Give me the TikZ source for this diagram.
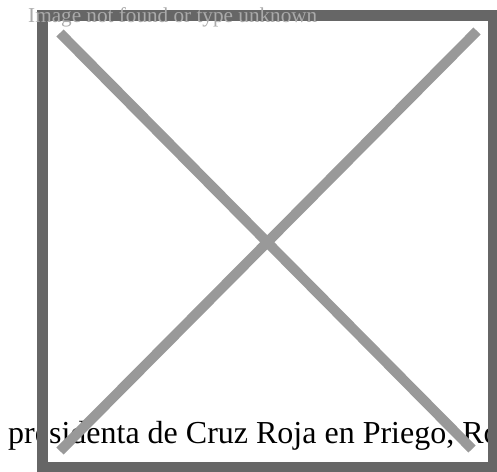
\documentclass[tikz,border=0pt]{standalone}
\usepackage{fontspec}
\setmainfont{Liberation Serif}
\definecolor{framegray}{RGB}{102,102,102}
\definecolor{crossgray}{RGB}{153,153,153}
\definecolor{alttext}{RGB}{170,170,170}
\tikzset{
  crossline/.style={draw=crossgray, line width=10pt, line cap=butt},
  frameline/.style={draw=framegray, line width=11pt},
  captext/.style={anchor=base west, inner sep=0pt, text=black, font=\fontsize{32}{38}\selectfont},
  alttextstyle/.style={anchor=base west, inner sep=0pt, text=alttext, font=\fontsize{21.2}{25}\selectfont}
}
\begin{document}
\begin{tikzpicture}[x=1pt,y=-1pt]
\useasboundingbox (0,0) rectangle (497,471);
\clip (0,0) rectangle (497,471);
\fill[white] (0,0) rectangle (497,471);
% caption text (under frame and cross)
\node[captext] (caption) at (8,443) {presidenta de Cruz Roja en Priego, Ro};
% cross
\coordinate (tl) at (60,33);
\coordinate (br) at (472,449);
\coordinate (tr) at (477,31);
\coordinate (bl) at (60,451);
\draw[crossline] (tl) -- (br);
\draw[crossline] (tr) -- (bl);
% frame
\coordinate (f1) at (42.5,15);
\coordinate (f2) at (493.5,467.5);
\draw[frameline] (f1) rectangle (f2);
% alt text
\node[alttextstyle] (alt) at (28,22) {Image not found or type unknown};
\end{tikzpicture}
\end{document}
